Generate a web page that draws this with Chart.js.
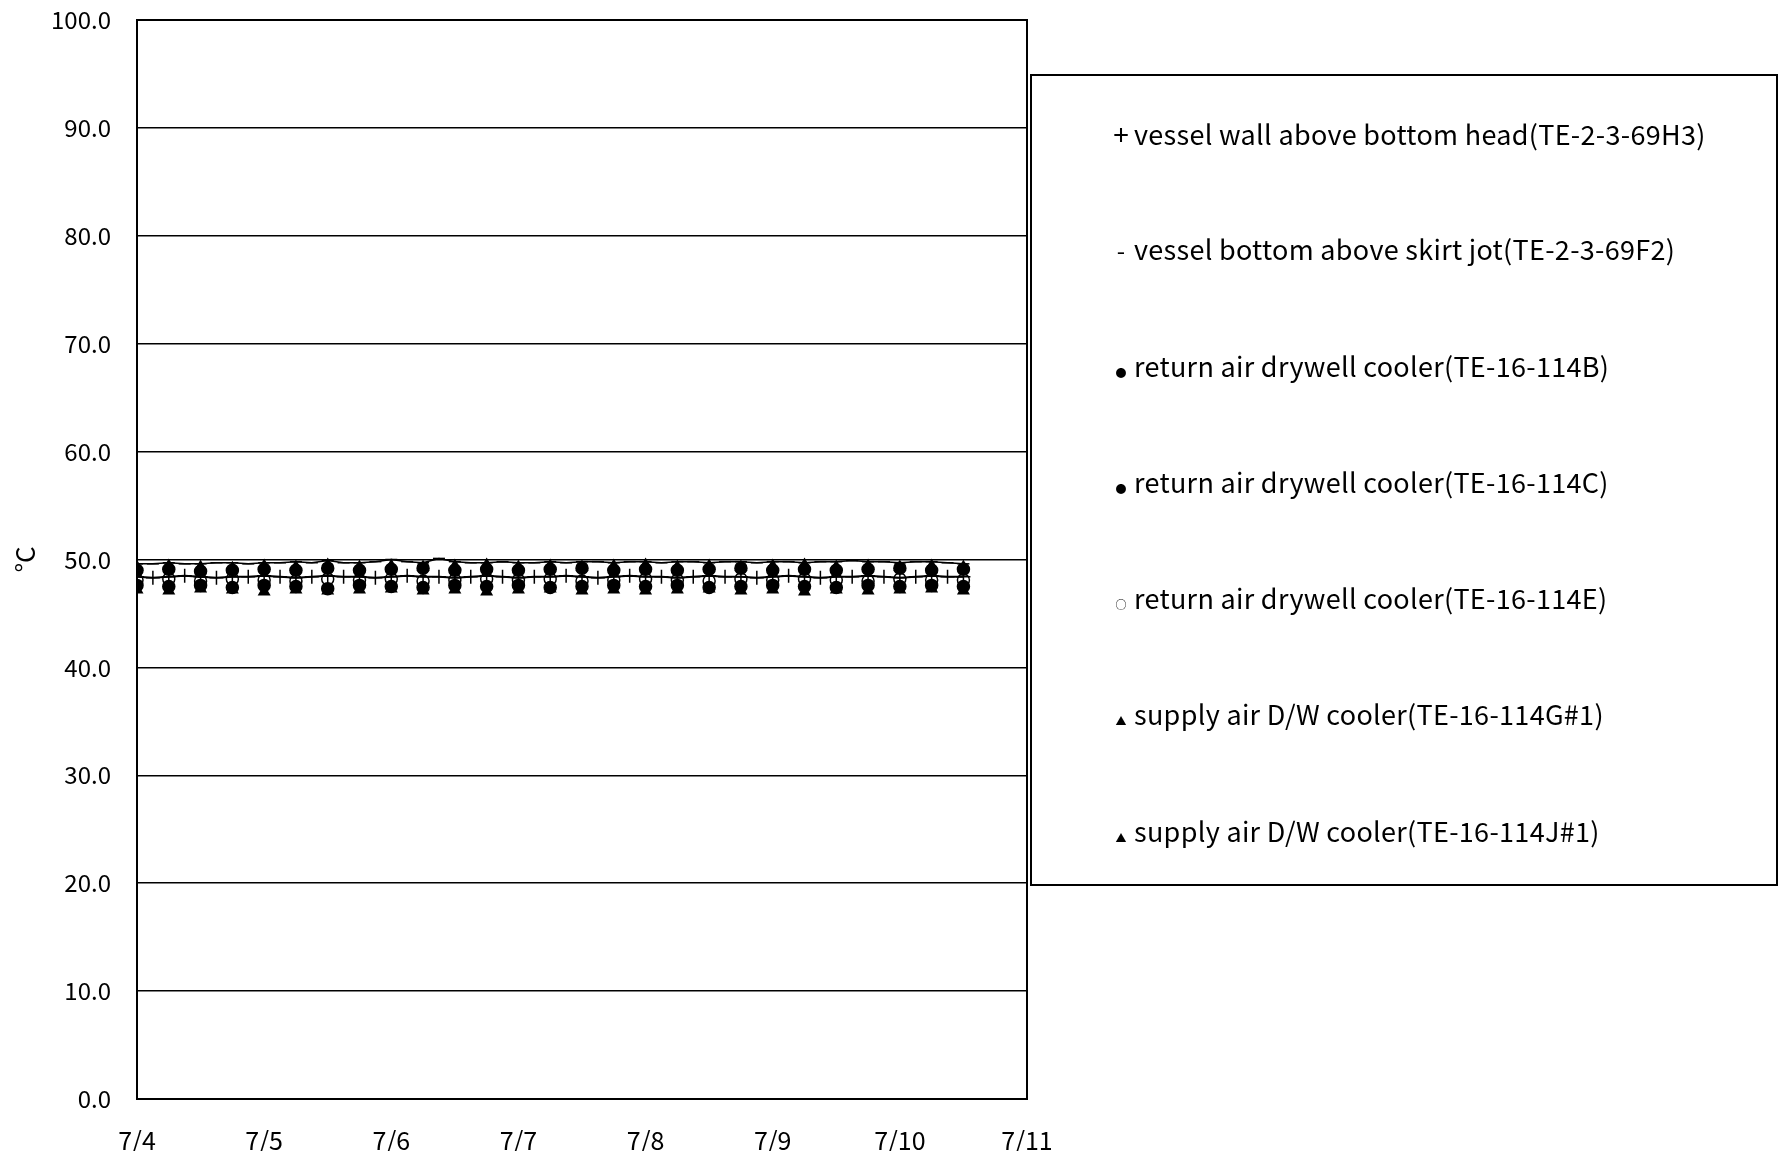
<!DOCTYPE html>
<html>
<head>
<meta charset="utf-8">
<script src="https://cdn.jsdelivr.net/npm/chart.js@4.4.1/dist/chart.umd.min.js"></script>
<style>
    html, body { margin: 0; padding: 0; background: #fff; }
    #wrap { position: relative; width: 1782px; height: 1151px; }
    #legend {
        position: absolute; left: 1030px; top: 74px; width: 748px; height: 812px;
        border: 2px solid #000; box-sizing: border-box; padding-top: 42px;
        font-family: "Noto Sans CJK JP", "DejaVu Sans", sans-serif; color: #000;
    }
    .row { height: 116.3px; line-height: 30px; font-size: 27px; letter-spacing: 0.3px; white-space: nowrap; }
    .sym { display: inline-block; width: 26px; margin-left: 76px; text-align: center; letter-spacing: 0; }
</style>
</head>
<body>
<div id="wrap">
    <canvas id="chart" width="1782" height="1151"></canvas>
    <div id="legend"></div>
</div>
<script>
// x 軸は 7/4 0:00 からの経過時間 (h)
const dayLabels = ['7/4', '7/5', '7/6', '7/7', '7/8', '7/9', '7/10', '7/11'];
const yTicks = [0, 10, 20, 30, 40, 50, 60, 70, 80, 90, 100];

// 3時間ごと
const hours3 = [
    0, 3, 6, 9, 12, 15, 18, 21,
    24, 27, 30, 33, 36, 39, 42, 45,
    48, 51, 54, 57, 60, 63, 66, 69,
    72, 75, 78, 81, 84, 87, 90, 93,
    96, 99, 102, 105, 108, 111, 114, 117,
    120, 123, 126, 129, 132, 135, 138, 141,
    144, 147, 150, 153, 156
];
// 6時間ごと
const hours6 = [
    0, 6, 12, 18,
    24, 30, 36, 42,
    48, 54, 60, 66,
    72, 78, 84, 90,
    96, 102, 108, 114,
    120, 126, 132, 138,
    144, 150, 156
];

const seriesNames = [
    'vessel wall above bottom head(TE-2-3-69H3)',
    'vessel bottom above skirt jot(TE-2-3-69F2)',
    'return air drywell cooler(TE-16-114B)',
    'return air drywell cooler(TE-16-114C)',
    'return air drywell cooler(TE-16-114E)',
    'supply air D/W cooler(TE-16-114G#1)',
    'supply air D/W cooler(TE-16-114J#1)'
];

const wall69H3 = [
    48.4, 48.3, 48.4, 48.5, 48.4, 48.3, 48.4, 48.4,
    48.5, 48.4, 48.3, 48.4, 48.5, 48.4, 48.4, 48.3,
    48.4, 48.5, 48.4, 48.4, 48.3, 48.4, 48.5, 48.4,
    48.3, 48.4, 48.4, 48.5, 48.4, 48.3, 48.4, 48.5,
    48.4, 48.4, 48.3, 48.4, 48.5, 48.4, 48.4, 48.3,
    48.4, 48.5, 48.4, 48.3, 48.4, 48.4, 48.5, 48.4,
    48.3, 48.4, 48.5, 48.4, 48.4
];
const bottom69F2 = [
    49.6, 49.6, 49.7, 49.6, 49.6, 49.7, 49.7, 49.6,
    49.7, 49.7, 49.8, 49.7, 49.9, 49.7, 49.7, 49.8,
    50.0, 49.8, 49.7, 50.1, 49.8, 49.7, 49.7, 49.8,
    49.7, 49.7, 49.8, 49.7, 49.8, 49.8, 49.7, 49.8,
    49.8, 49.7, 49.8, 49.8, 49.7, 49.8, 49.8, 49.7,
    49.8, 49.8, 49.7, 49.8, 49.8, 49.9, 49.8, 49.8,
    49.7, 49.8, 49.8, 49.7, 49.6
];
const return114B = [
    49.0, 49.1, 48.9, 49.0,
    49.1, 49.0, 49.2, 49.0,
    49.1, 49.2, 49.0, 49.1,
    49.0, 49.1, 49.2, 49.0,
    49.1, 49.0, 49.1, 49.2,
    49.0, 49.1, 49.0, 49.1,
    49.2, 49.0, 49.1
];
const return114C = [
    47.6, 47.5, 47.6, 47.4,
    47.6, 47.5, 47.3, 47.6,
    47.5, 47.4, 47.6, 47.5,
    47.6, 47.4, 47.5, 47.6,
    47.5, 47.6, 47.4, 47.5,
    47.6, 47.5, 47.4, 47.6,
    47.5, 47.6, 47.5
];
const return114E = [
    48.1, 48.2, 48.0, 48.2,
    48.1, 48.0, 48.2, 48.1,
    48.2, 48.0, 48.1, 48.2,
    48.1, 48.2, 48.0, 48.1,
    48.2, 48.1, 48.0, 48.2,
    48.1, 48.2, 48.1, 48.0,
    48.2, 48.1, 48.1
];
const supply114G = [
    49.3, 49.4, 49.3, 49.2,
    49.4, 49.3, 49.5, 49.3,
    49.4, 49.3, 49.4, 49.5,
    49.3, 49.4, 49.3, 49.4,
    49.5, 49.3, 49.4, 49.3,
    49.4, 49.5, 49.3, 49.4,
    49.3, 49.4, 49.3
];
const supply114J = [
    47.2, 47.1, 47.3, 47.2,
    47.0, 47.2, 47.1, 47.2,
    47.3, 47.1, 47.2, 47.0,
    47.2, 47.3, 47.1, 47.2,
    47.1, 47.2, 47.3, 47.1,
    47.2, 47.0, 47.2, 47.1,
    47.2, 47.3, 47.1
];

function toPoints(xs, ys) {
    return xs.map((x, i) => ({ x: x, y: ys[i] }));
}

const markers = [
    { style: 'cross', radius: 7, fill: '#000', line: true, sym: '+', symSize: 28 },
    { style: 'line', radius: 6, fill: '#000', line: true, sym: '-', symSize: 24 },
    { style: 'circle', radius: 6, fill: '#000', line: false, sym: '●', symSize: 11 },
    { style: 'circle', radius: 6, fill: '#000', line: false, sym: '●', symSize: 11 },
    { style: 'circle', radius: 6, fill: '#fff', line: false, sym: '○', symSize: 11 },
    { style: 'triangle', radius: 6, fill: '#000', line: false, sym: '▲', symSize: 11 },
    { style: 'triangle', radius: 6, fill: '#000', line: false, sym: '▲', symSize: 11 }
];

const seriesData = [
    toPoints(hours3, wall69H3),
    toPoints(hours3, bottom69F2),
    toPoints(hours6, return114B),
    toPoints(hours6, return114C),
    toPoints(hours6, return114E),
    toPoints(hours6, supply114G),
    toPoints(hours6, supply114J)
];

// 枠線
const frameBox = {
    id: 'frameBox',
    afterDraw(chart) {
        const { ctx, chartArea } = chart;
        ctx.save();
        ctx.strokeStyle = '#000';
        ctx.lineWidth = 2;
        ctx.strokeRect(chartArea.left, chartArea.top, chartArea.right - chartArea.left, chartArea.bottom - chartArea.top);
        ctx.restore();
    }
};

const fontFamily = '"Noto Sans CJK JP", "DejaVu Sans", sans-serif';

new Chart(document.getElementById('chart').getContext('2d'), {
    type: 'scatter',
    data: {
        datasets: seriesNames.map((name, i) => ({
            label: name,
            data: seriesData[i],
            showLine: markers[i].line,
            borderColor: '#000',
            borderWidth: i === 0 ? 2 : 1.5,
            pointStyle: markers[i].style,
            pointRadius: markers[i].radius,
            pointBackgroundColor: markers[i].fill,
            pointBorderColor: '#000',
            pointBorderWidth: 1.5
        }))
    },
    options: {
        responsive: false,
        animation: false,
        layout: { padding: { left: 0, top: 20, right: 755, bottom: 0 } },
        plugins: {
            legend: { display: false },
            tooltip: { enabled: false }
        },
        scales: {
            x: {
                type: 'linear',
                min: 0,
                max: 168,
                afterBuildTicks: (scale) => {
                    scale.ticks = dayLabels.map((d, i) => ({ value: i * 24 }));
                },
                ticks: {
                    color: '#000',
                    font: { family: fontFamily, size: 25 },
                    padding: 18,
                    callback: (v) => dayLabels[v / 24]
                },
                grid: { display: false },
                border: { display: true, color: '#000', width: 2 },
                afterFit: (scale) => { scale.height = 52; }
            },
            y: {
                min: 0,
                max: 100,
                afterBuildTicks: (scale) => {
                    scale.ticks = yTicks.map(v => ({ value: v }));
                },
                ticks: {
                    color: '#000',
                    font: { family: fontFamily, size: 24 },
                    padding: 26,
                    callback: (v) => v.toFixed(1)
                },
                grid: { color: '#000', lineWidth: 1.5, drawTicks: false },
                border: { display: true, color: '#000', width: 2 },
                title: {
                    display: true,
                    text: '°C',
                    color: '#000',
                    font: { family: fontFamily, size: 26 },
                    padding: { top: 10, bottom: 0 }
                },
                afterFit: (scale) => {
                    scale.width = 137;
                    scale.paddingTop = 0;
                    scale.paddingBottom = 0;
                }
            }
        }
    },
    plugins: [frameBox]
});

// 凡例
const legendEl = document.getElementById('legend');
seriesNames.forEach((name, i) => {
    const row = document.createElement('div');
    row.className = 'row';
    const sym = document.createElement('span');
    sym.className = 'sym';
    sym.style.fontSize = markers[i].symSize + 'px';
    sym.textContent = markers[i].sym;
    row.appendChild(sym);
    row.appendChild(document.createTextNode(name));
    legendEl.appendChild(row);
});
</script>
</body>
</html>
